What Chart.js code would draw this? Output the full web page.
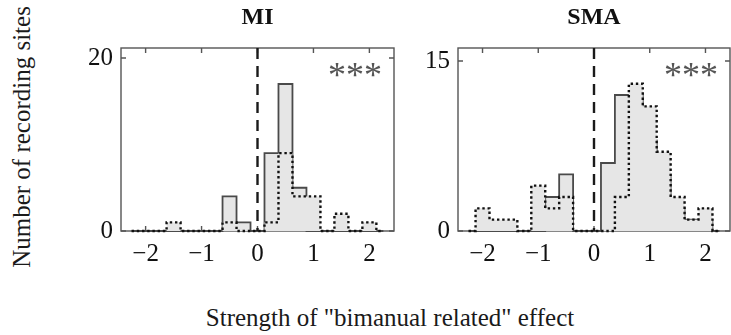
<!DOCTYPE html>
<html>
<head>
<meta charset="utf-8">
<script src="https://cdn.jsdelivr.net/npm/chart.js@4/dist/chart.umd.min.js"></script>
<style>
  html, body { margin: 0; padding: 0; background: #fff; }
  body { width: 731px; height: 335px; position: relative; overflow: hidden;
         font-family: "Liberation Serif", "Times New Roman", serif; color: #1a1a1a; }
  .panel { position: absolute; top: 0; }
  #yTitle { position: absolute; left: 22px; top: 137px; white-space: nowrap; font-size: 25px;
            transform: translate(-50%, -50%) rotate(-90deg); }
  #xTitle { position: absolute; left: 390px; top: 318px; white-space: nowrap; font-size: 25px;
            transform: translate(-50%, -50%); }
</style>
</head>
<body>
<canvas id="mi" class="panel" width="345" height="280" style="left:60px"></canvas>
<canvas id="sma" class="panel" width="331" height="280" style="left:400px"></canvas>
<div id="yTitle">Number of recording sites</div>
<div id="xTitle">Strength of "bimanual related" effect</div>
<script>
// Histogram bins (centre of each 0.25-wide bin) and counts per area
const binCenters = [-2.25, -2, -1.75, -1.5, -1.25, -1, -0.75, -0.5, -0.25, 0, 0.25, 0.5, 0.75, 1, 1.25, 1.5, 1.75, 2, 2.25];
const miSolid   = [0, 0, 0, 0, 0, 0, 0, 4, 1, 0, 9, 17, 5, 0, 0, 0, 0, 0, 0];
const miDotted  = [0, 0, 0, 1, 0, 0, 0, 1, 0, 0, 1, 9, 4, 4, 0, 2, 0, 1, 0];
const smaSolid  = [0, 0, 0, 0, 0, 0, 3, 5, 0, 0, 6, 12, 12, 8, 5, 2, 1, 1, 0];
const smaDotted = [0, 2, 1, 1, 0, 4, 2, 3, 0, 0, 0, 3, 13, 11, 7, 3, 1, 2, 0];

const xTickValues = [-2, -1, 0, 1, 2];
const miYTicks = [0, 20];
const smaYTicks = [0, 15];
const panelTitles = ['MI', 'SMA'];
const sigLabel = '***';

const FILL = '#e6e6e6';
const SERIF = '"Liberation Serif", "Times New Roman", serif';

// Box frame with inward ticks, zero-effect reference line, panel title and significance stars
const panelDecor = {
  id: 'panelDecor',
  beforeDatasetsDraw(chart) {
    const { ctx, chartArea: a, scales: { x, y } } = chart;
    ctx.save();
    ctx.strokeStyle = '#555';
    ctx.lineWidth = 1.4;
    ctx.strokeRect(a.left, a.top, a.right - a.left, a.bottom - a.top);
    const t = 5;
    ctx.beginPath();
    x.ticks.forEach(tk => {
      const px = x.getPixelForValue(tk.value);
      ctx.moveTo(px, a.top); ctx.lineTo(px, a.top + t);
      ctx.moveTo(px, a.bottom); ctx.lineTo(px, a.bottom - t);
    });
    y.ticks.forEach(tk => {
      const py = y.getPixelForValue(tk.value);
      ctx.moveTo(a.left, py); ctx.lineTo(a.left + t, py);
      ctx.moveTo(a.right, py); ctx.lineTo(a.right - t, py);
    });
    ctx.stroke();
    ctx.restore();
  },
  afterDatasetsDraw(chart, args, opts) {
    const { ctx, chartArea: a, scales: { x } } = chart;
    const px = x.getPixelForValue(0);
    ctx.save();
    ctx.strokeStyle = '#1a1a1a';
    ctx.lineWidth = 2.4;
    ctx.setLineDash([11, 7]);
    ctx.beginPath();
    ctx.moveTo(px, a.top);
    ctx.lineTo(px, a.bottom);
    ctx.stroke();
    ctx.setLineDash([]);

    ctx.fillStyle = '#111';
    ctx.font = 'bold 24px ' + SERIF;
    ctx.textAlign = 'center';
    ctx.textBaseline = 'middle';
    ctx.fillText(opts.title, (a.left + a.right) / 2, 18);

    ctx.fillStyle = '#555';
    ctx.font = '36px ' + SERIF;
    ctx.textAlign = 'right';
    ctx.textBaseline = 'alphabetic';
    ctx.fillText(opts.sig, a.right - 12, a.top + 39);
    ctx.restore();
  }
};

function minusLabel(v) {
  return v < 0 ? '\u2212' + Math.abs(v) : String(v);
}

function makePanel(id, solid, dotted, yTicks, yMax, axisWidth, padRight, title) {
  const points = vals => binCenters.map((c, i) => ({ x: c, y: vals[i] }));
  return new Chart(document.getElementById(id), {
    type: 'line',
    data: {
      datasets: [
        { data: points(dotted), stepped: 'middle', fill: 'origin', backgroundColor: FILL,
          borderColor: '#111', borderWidth: 2.4, borderDash: [2.4, 2.8],
          pointRadius: 0, clip: false, order: 1 },
        { data: points(solid), stepped: 'middle', fill: 'origin', backgroundColor: FILL,
          borderColor: '#4a4a4a', borderWidth: 1.8,
          pointRadius: 0, clip: false, order: 2 }
      ]
    },
    options: {
      responsive: false,
      animation: false,
      devicePixelRatio: 1,
      events: [],
      layout: { padding: { top: 48, right: padRight, left: 0, bottom: 0 } },
      plugins: {
        legend: { display: false },
        tooltip: { enabled: false },
        panelDecor: { title: title, sig: sigLabel }
      },
      scales: {
        x: {
          type: 'linear', min: -2.44, max: 2.44,
          afterBuildTicks: s => { s.ticks = xTickValues.map(v => ({ value: v })); },
          afterFit: s => { s.height = 49; },
          grid: { display: false, drawTicks: false },
          border: { display: false },
          ticks: { padding: 8, color: '#111', maxRotation: 0,
                   font: { family: SERIF, size: 25 }, callback: minusLabel }
        },
        y: {
          type: 'linear', min: 0, max: yMax,
          afterBuildTicks: s => { s.ticks = yTicks.map(v => ({ value: v })); },
          afterFit: s => { s.width = axisWidth; },
          grid: { display: false, drawTicks: false },
          border: { display: false },
          ticks: { padding: 8, color: '#111', font: { family: SERIF, size: 25 } }
        }
      }
    },
    plugins: [panelDecor]
  });
}

makePanel('mi', miSolid, miDotted, miYTicks, 21.16, 61, 11, panelTitles[0]);
makePanel('sma', smaSolid, smaDotted, smaYTicks, 16.15, 58, 1, panelTitles[1]);
</script>
</body>
</html>
